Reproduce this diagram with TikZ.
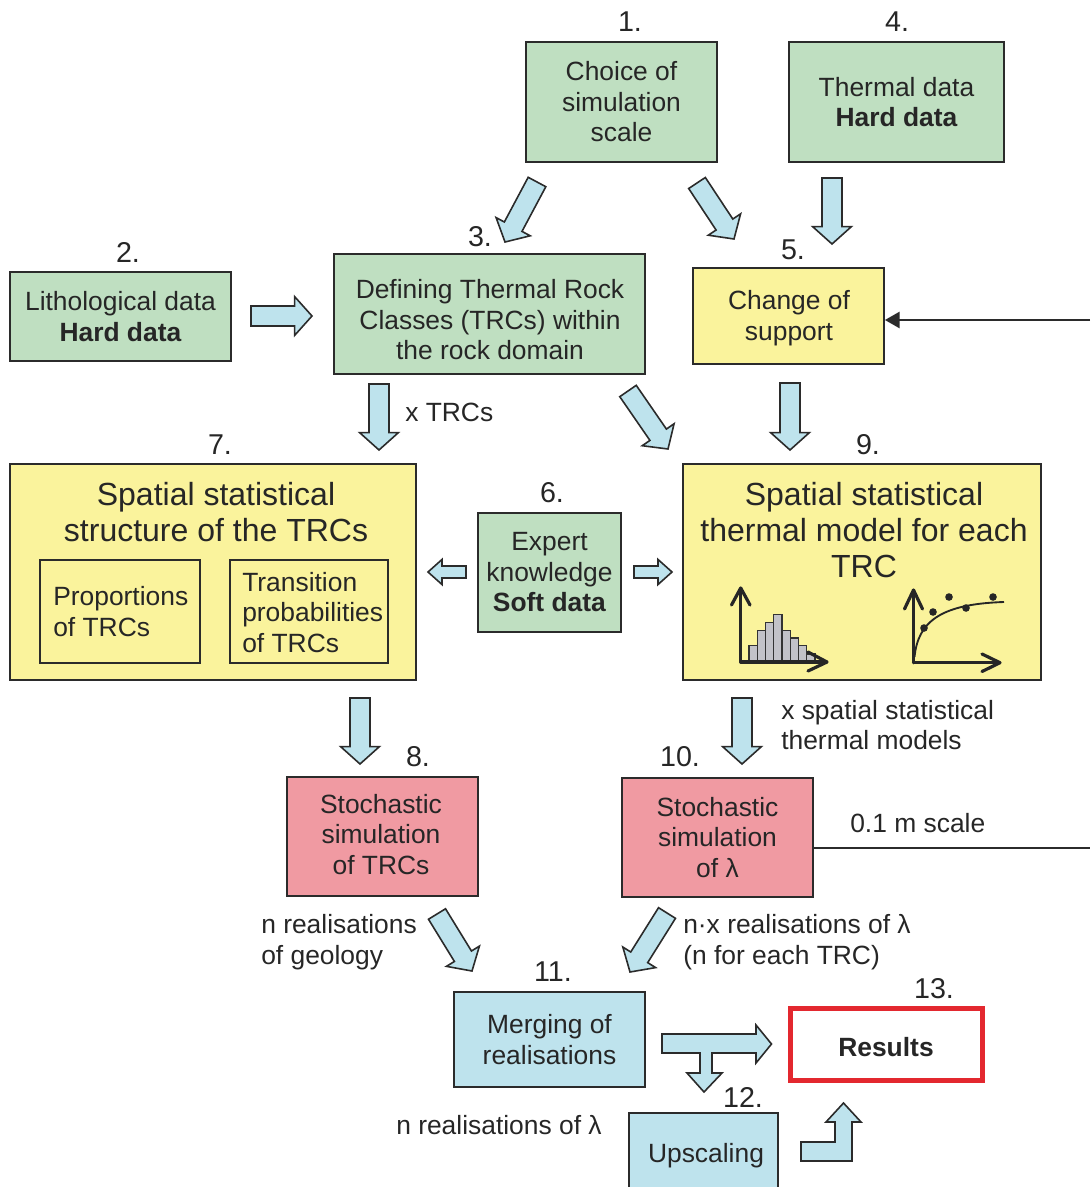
\documentclass[tikz,border=0pt]{standalone}
\usepackage{fontspec}
\setmainfont{Liberation Sans}
\usetikzlibrary{calc,arrows.meta}
\definecolor{gfill}{HTML}{BFDFC1}
\definecolor{yfill}{HTML}{FAF39C}
\definecolor{rfill}{HTML}{F09AA2}
\definecolor{bfill}{HTML}{BEE3ED}
\definecolor{bord}{HTML}{2B2B2B}
\definecolor{resred}{HTML}{E3282F}
\definecolor{barfill}{HTML}{C2C2C8}
\newcommand\fsn{\fontsize{19.8}{22.9}\selectfont}
\newcommand\fsl{\fontsize{24}{27}\selectfont}
\newcommand\fsnum{\fontsize{21.5}{24}\selectfont}
\newcommand\blkarrow[5]{%
  \coordinate (ba) at #1;
  \coordinate (bb) at #2;
  \coordinate (bh) at ($(bb)!#5!(ba)$);
  \draw[blk] ($(ba)!#3!90:(bb)$) -- ($(bh)!#3!90:(bb)$) -- ($(bh)!#4!90:(bb)$) -- (bb)
    -- ($(bh)!#4!-90:(bb)$) -- ($(bh)!#3!-90:(bb)$) -- ($(ba)!#3!-90:(bb)$) -- cycle;}
\newcommand\bigarrow[2]{\blkarrow{#1}{#2}{7.5pt}{14.5pt}{13pt}}
\newcommand\smallarrow[2]{\blkarrow{#1}{#2}{4.5pt}{9.4pt}{10.5pt}}
\tikzset{
  wh/.style 2 args={minimum width=#1*0.75pt, minimum height=#2*0.75pt},
  box/.style={draw=bord, line width=1.3pt, inner sep=0pt, align=center, font=\fsn, text=black!85},
  gbox/.style={box, fill=gfill},
  ybox/.style={box, fill=yfill},
  rbox/.style={box, fill=rfill},
  bbox/.style={box, fill=bfill},
  txt/.style={font=\fsn, inner sep=0pt, align=center, text=black!85},
  num/.style={font=\fsnum, inner sep=0pt, text=black!85},
  lbl/.style={font=\fsn, inner sep=0pt, align=left, anchor=west, text=black!85},
  blk/.style={draw=bord, fill=bfill, line width=1.2pt, line join=miter},
  axis/.style={draw=black!85, line width=2.4pt, line join=round, line cap=round},
}
\begin{document}
\begin{tikzpicture}[x=0.75pt,y=-0.75pt]
\useasboundingbox (0,0) rectangle (1090,1187);
\clip (0,0) rectangle (1090,1187);

% boxes
\node[gbox, wh={191}{120}] (b1) at (621.5,102) {Choice of\\simulation\\scale};
\node[gbox, wh={215}{120}] (b4) at (896.5,102) {Thermal data\\\textbf{Hard data}};
\node[gbox, wh={221}{89}] (b2) at (120.5,316.5) {Lithological data\\\textbf{Hard data}};
\node[gbox, wh={311}{120}] (b3) at (489.5,314) {};
\node[txt] (t3) at (490,320) {Defining Thermal Rock\\Classes (TRCs) within\\the rock domain};
\node[ybox, wh={191}{96}] (b5) at (788.5,316) {};
\node[txt] (t5) at (789,318) {Change of\\support};
\node[ybox, wh={406}{216}] (b7) at (213,572) {};
\node[box, font=\fsl, draw=none, fill=none] (t7) at (216,512) {Spatial statistical\\structure of the TRCs};
\node[ybox, wh={160}{103}] (b7a) at (120,611.5) {};
\node[lbl] (t7a) at (53,611.5) {Proportions\\of TRCs};
\node[ybox, wh={158}{103}] (b7b) at (309,611.5) {};
\node[lbl] (t7b) at (242,612.5) {Transition\\probabilities\\of TRCs};
\node[gbox, wh={143}{119}] (b6) at (549.5,572.5) {Expert\\knowledge\\\textbf{Soft data}};
\node[ybox, wh={358}{216}] (b9) at (862,572) {};
\node[box, font=\fsl, draw=none, fill=none] (t9) at (864,530) {Spatial statistical\\thermal model for each\\TRC};
\node[rbox, wh={191}{119}] (b8) at (382.5,836.5) {};
\node[txt] (t8) at (381,834.5) {Stochastic\\simulation\\of TRCs};
\node[rbox, wh={191}{119}] (b10) at (717.5,837.5) {Stochastic\\simulation\\of λ};
\node[bbox, wh={191}{95}] (b11) at (549.5,1039.5) {Merging of\\realisations};
\node[box, wh={192}{72}, draw=resred, line width=3.75pt, fill=white] (b13) at (886.5,1044.5) {};
\node[txt] (t13) at (886,1047) {\textbf{Results}};
\node[bbox, wh={149}{90}] (b12) at (703.5,1158) {};
\node[txt] (t12) at (706,1156) {Upscaling};

% numbers
\node[num] (n1) at (630,22) {1.};
\node[num] (n4) at (897,22) {4.};
\node[num] (n2) at (128,252) {2.};
\node[num] (n3) at (480,237) {3.};
\node[num] (n5) at (793,250) {5.};
\node[num] (n7) at (220,445) {7.};
\node[num] (n6) at (552,493) {6.};
\node[num] (n9) at (868,445) {9.};
\node[num] (n8) at (418,757) {8.};
\node[num] (n10) at (680,757) {10.};
\node[num] (n11) at (553,972) {11.};
\node[num] (n12) at (743,1097) {12.};
\node[num] (n13) at (934,989) {13.};

% labels
\node[lbl] (l1) at (405,412) {x TRCs};
\node[lbl] (l2) at (781,725) {x spatial statistical\\thermal models};
\node[lbl] (l3) at (261,942) {n realisations\\of geology};
\node[lbl] (l4) at (683,942) {n·x realisations of λ\\(n for each TRC)};
\node[lbl] (l5) at (396,1125) {n realisations of λ};
\node[lbl] (l6) at (850,823) {0.1 m scale};

% lines from the right edge
\coordinate (e5) at (1090,320);
\coordinate (e10) at (1090,848);
\draw[draw=bord, line width=1.8pt, -{Triangle[length=11pt,width=12pt]}] (e5) -- (b5.east |- e5);
\draw[draw=bord, line width=1pt] (b10.east |- e10) -- (e10);

% block arrows
\bigarrow{(537,182)}{(505,242)}
\bigarrow{(697,183)}{(734,239)}
\bigarrow{(832,178)}{(832,244)}
\bigarrow{(251,316)}{(312,316)}
\bigarrow{(379,384)}{(379,450)}
\bigarrow{(628,391)}{(668,449)}
\bigarrow{(790,383)}{(790,450)}
\smallarrow{(466,572)}{(428,572)}
\smallarrow{(634,572)}{(672,572)}
\bigarrow{(360,698)}{(360,764)}
\bigarrow{(742,698)}{(742,764)}
\bigarrow{(437,914)}{(472,971)}
\bigarrow{(667,913)}{(630,972)}
\draw[blk] (662,1034) -- (756,1034) -- (756,1025) -- (771.5,1044) -- (756,1063) -- (756,1053)
  -- (712,1053) -- (712,1073) -- (722,1073) -- (704,1092) -- (687,1073) -- (700,1073)
  -- (700,1053) -- (662,1053) -- cycle;
\draw[blk] (801,1142) -- (835,1142) -- (835,1122) -- (826,1122) -- (843.5,1103) -- (861,1122)
  -- (852,1122) -- (852,1161) -- (801,1161) -- cycle;

% histogram icon
\foreach \xa/\xb/\yt in {749/757.3/645.7, 757.3/765.3/630.7, 765.3/773.7/622.7, 773.7/782/614.7,
  782/790.3/630.7, 790.3/798.7/638, 798.7/806.7/645.7, 806.7/815/654}
  \draw[fill=barfill, draw=black!80, line width=0.8pt] (\xa,662) rectangle (\xb,\yt);
\draw[axis] (740.7,662) -- (740.7,589);
\draw[axis] (731.5,605) -- (740.7,588) -- (750,605);
\draw[axis] (740.7,662) -- (826,662);
\draw[axis] (808,652) -- (827,662) -- (808,671);

% curve icon
\draw[axis] (913.5,662.7) -- (913.5,591);
\draw[axis] (904.5,609) -- (913.5,590) -- (922.5,609);
\draw[axis] (913.5,662.7) -- (999,662.7);
\draw[axis] (982,654) -- (1000,662.7) -- (982,671.5);
\draw[draw=black!85, line width=1.4pt] (914.5,657) .. controls (918,622) and (940,604) .. (1004,602);
\foreach \p in {(924,628),(933,612),(949,597),(966,608),(993,597)}
  \fill[black!85] \p circle (3.8);
\end{tikzpicture}
\end{document}
